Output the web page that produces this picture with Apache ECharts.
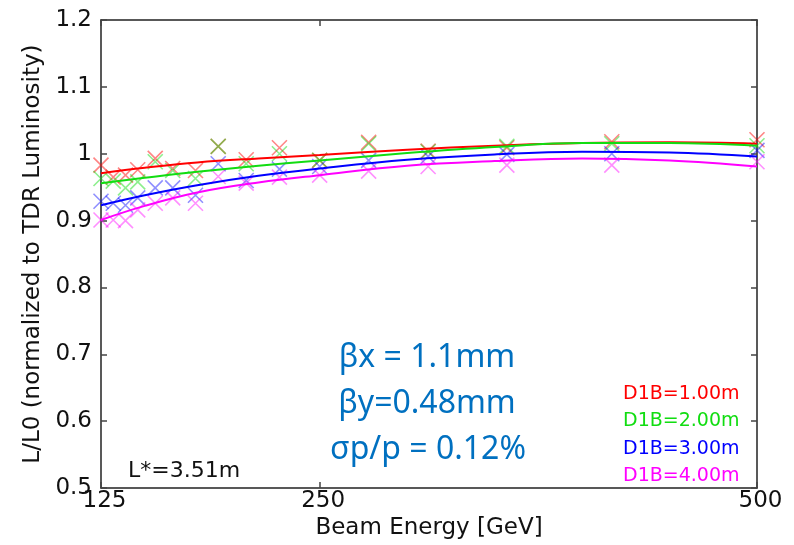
<!DOCTYPE html>
<html>
<head>
<meta charset="utf-8">
<script src="https://cdn.jsdelivr.net/npm/echarts@6/dist/echarts.min.js"></script>
<style>
  html, body { margin: 0; padding: 0; background: #ffffff; }
  #chart { width: 794px; height: 545px; }
</style>
</head>
<body>
<div id="chart"></div>
<script>
// Simulated luminosity points vs beam energy, one set per D1B distance
const energies = [125, 132, 139, 146, 156, 166, 179, 192, 208, 227, 250, 278, 312, 357, 417, 500];
const lumiD1B1 = [0.983, 0.965, 0.968, 0.976, 0.993, 0.978, 0.975, 1.011, 0.991, 1.009, 0.990, 1.017, 1.004, 1.009, 1.018, 1.021];
const lumiD1B2 = [0.963, 0.959, 0.949, 0.958, 0.988, 0.975, 0.963, 1.011, 0.985, 1.000, 0.990, 1.015, 1.003, 1.011, 1.015, 1.012];
const lumiD1B3 = [0.929, 0.926, 0.923, 0.934, 0.949, 0.949, 0.938, 0.985, 0.960, 0.977, 0.981, 0.990, 0.996, 0.999, 1.000, 1.005];
const lumiD1B4 = [0.901, 0.901, 0.900, 0.916, 0.926, 0.934, 0.926, 0.966, 0.956, 0.965, 0.968, 0.974, 0.981, 0.983, 0.983, 0.988];

// Fitted curves sampled along the energy range
const fitEnergies = [125, 150, 180, 215, 250, 300, 350, 400, 450, 500];
const fitD1B1 = [0.971, 0.979, 0.987, 0.993, 0.998, 1.006, 1.012, 1.016, 1.017, 1.015];
const fitD1B2 = [0.956, 0.964, 0.973, 0.982, 0.990, 1.001, 1.010, 1.016, 1.016, 1.012];
const fitD1B3 = [0.923, 0.938, 0.953, 0.967, 0.978, 0.991, 0.999, 1.003, 1.002, 0.996];
const fitD1B4 = [0.901, 0.922, 0.942, 0.957, 0.968, 0.982, 0.989, 0.993, 0.990, 0.981];

const seriesNames = ['D1B=1.00m', 'D1B=2.00m', 'D1B=3.00m', 'D1B=4.00m'];
const seriesColors = ['#ff0000', '#11dd11', '#0000ff', '#ff00ff'];
const markerColors = ['rgba(255,0,0,0.6)', 'rgba(17,221,17,0.6)', 'rgba(0,0,255,0.55)', 'rgba(255,0,255,0.55)'];
const xTickValues = [125, 250, 500];
const yMin = 0.5, yMax = 1.2, yStep = 0.1;

const pointSets = [lumiD1B1, lumiD1B2, lumiD1B3, lumiD1B4];
const fitSets = [fitD1B1, fitD1B2, fitD1B3, fitD1B4];

const axisFont = 'DejaVu Sans';
const crossSymbol = 'path://M0,0L10,10M10,0L0,10';

const series = [];
pointSets.forEach(function (vals, i) {
  series.push({
    name: seriesNames[i],
    type: 'scatter',
    data: energies.map(function (e, k) { return [e, vals[k]]; }),
    symbol: crossSymbol,
    symbolSize: 15,
    itemStyle: { color: 'rgba(0,0,0,0)', borderColor: markerColors[i], borderWidth: 1.6 },
    emphasis: { disabled: true },
    z: 2
  });
});
fitSets.forEach(function (vals, i) {
  series.push({
    name: seriesNames[i],
    type: 'line',
    data: fitEnergies.map(function (e, k) { return [e, vals[k]]; }),
    smooth: 0.4,
    showSymbol: false,
    lineStyle: { color: seriesColors[i], width: 2 },
    itemStyle: { color: seriesColors[i] },
    emphasis: { disabled: true },
    z: 3
  });
});

const axisLine = { show: true, lineStyle: { color: '#222', width: 1.5 } };
const tickStyle = { lineStyle: { color: '#444', width: 1.5 } };

const chart = echarts.init(document.getElementById('chart'));
chart.setOption({
  animation: false,
  backgroundColor: '#ffffff',
  grid: { left: 101, right: 37, top: 20, bottom: 52, containLabel: false },
  xAxis: [{
    type: 'value',
    min: 125, max: 500,
    position: 'bottom',
    name: 'Beam Energy [GeV]',
    nameLocation: 'middle',
    nameGap: 21,
    nameTextStyle: { fontFamily: axisFont, fontSize: 23, color: '#111' },
    axisLine: axisLine,
    axisTick: Object.assign({ show: true, inside: true, length: 6, customValues: xTickValues }, tickStyle),
    axisLabel: { show: true, customValues: xTickValues, margin: 1, fontFamily: axisFont, fontSize: 23, color: '#111', padding: [0, 0, 0, 7] },
    splitLine: { show: false }
  }, {
    type: 'value',
    min: 125, max: 500,
    position: 'top',
    axisLine: axisLine,
    axisTick: Object.assign({ show: true, inside: true, length: 6, customValues: xTickValues }, tickStyle),
    axisLabel: { show: false },
    splitLine: { show: false }
  }],
  yAxis: [{
    type: 'value',
    min: yMin, max: yMax, interval: yStep,
    position: 'left',
    name: 'L/L0 (normalized to TDR Luminosity)',
    nameLocation: 'middle',
    nameRotate: 90,
    nameGap: 47,
    nameTextStyle: { fontFamily: axisFont, fontSize: 23, color: '#111' },
    axisLine: axisLine,
    axisTick: Object.assign({ show: true, inside: true, length: 6 }, tickStyle),
    axisLabel: { show: true, margin: 9, fontFamily: axisFont, fontSize: 23, color: '#111' },
    splitLine: { show: false }
  }, {
    type: 'value',
    min: yMin, max: yMax, interval: yStep,
    position: 'right',
    axisLine: axisLine,
    axisTick: Object.assign({ show: true, inside: true, length: 6 }, tickStyle),
    axisLabel: { show: false },
    splitLine: { show: false }
  }],
  legend: {
    orient: 'vertical',
    left: 613,
    top: 379,
    icon: 'none',
    itemWidth: 0,
    itemHeight: 20,
    itemGap: 7.5,
    selectedMode: false,
    data: seriesNames.map(function (n, i) {
      return { name: n, textStyle: { color: seriesColors[i] } };
    }),
    textStyle: { fontFamily: axisFont, fontSize: 19, lineHeight: 20 }
  },
  graphic: [{
    type: 'text',
    left: 128,
    top: 460,
    style: { text: 'L*=3.51m', fontFamily: axisFont, fontSize: 22, fill: '#111' }
  }, {
    type: 'text',
    x: 427,
    y: 358,
    style: { text: 'βx = 1.1mm', fontFamily: 'Noto Sans', fontSize: 32, fill: '#0070c0', align: 'center', verticalAlign: 'middle' }
  }, {
    type: 'text',
    x: 427,
    y: 404,
    style: { text: 'βy=0.48mm', fontFamily: 'Noto Sans', fontSize: 32, fill: '#0070c0', align: 'center', verticalAlign: 'middle' }
  }, {
    type: 'text',
    x: 428,
    y: 450,
    style: { text: 'σp/p = 0.12%', fontFamily: 'Noto Sans', fontSize: 32, fill: '#0070c0', align: 'center', verticalAlign: 'middle' }
  }],
  series: series
});
</script>
</body>
</html>
